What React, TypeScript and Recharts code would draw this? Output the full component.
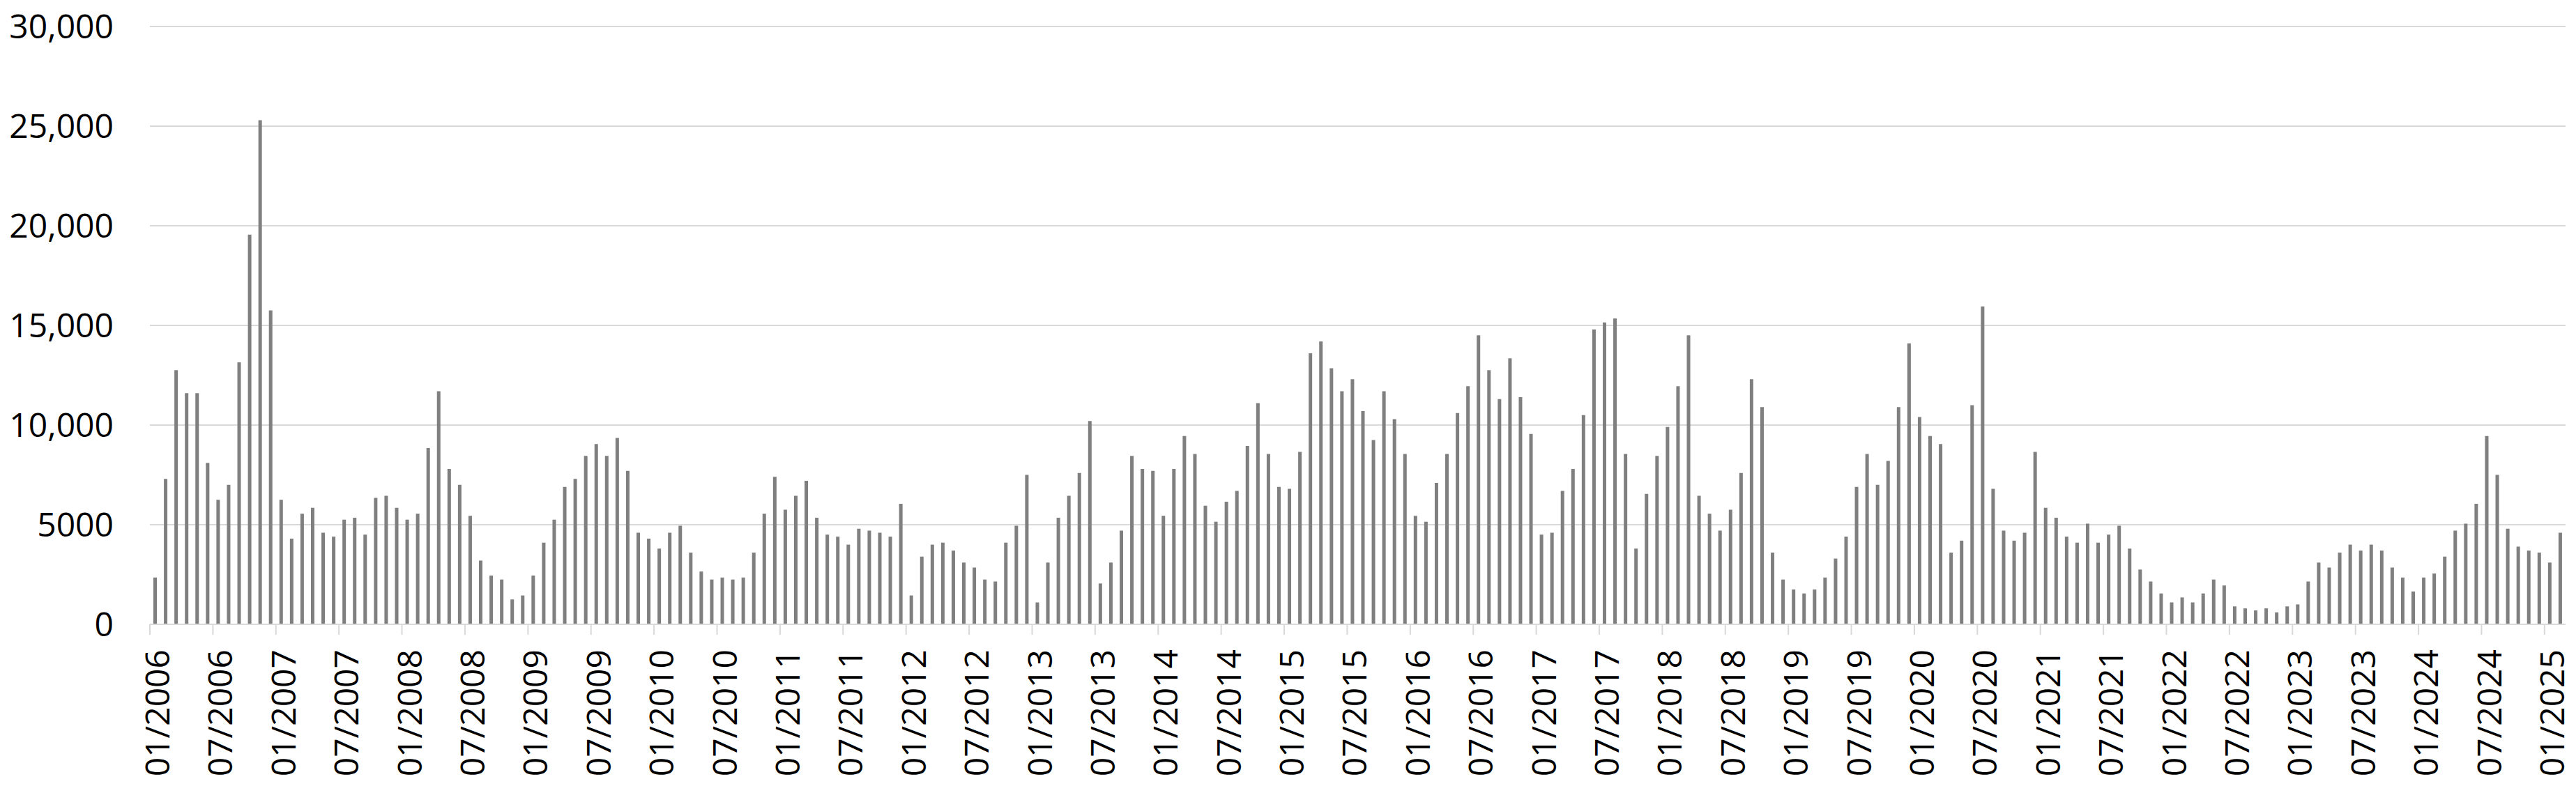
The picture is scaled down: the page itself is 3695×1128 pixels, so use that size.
import { BarChart, Bar, XAxis, YAxis, CartesianGrid } from "recharts";

const W = 3695;
const H = 1128;
const MARGIN = { top: 38, right: 15, bottom: 0, left: 0 };
const Y_AXIS_W = 215;

// monthly values, 01/2006 .. 02/2025
const values2006 = [2350, 7300, 12750, 11600, 11600, 8100, 6250, 7000, 13150, 19550, 25300, 15750];
const values2007 = [6250, 4300, 5550, 5850, 4600, 4400, 5250, 5350, 4500, 6350, 6450, 5850];
const values2008 = [5250, 5550, 8850, 11700, 7800, 7000, 5450, 3200, 2450, 2250, 1250, 1450];
const values2009 = [2450, 4100, 5250, 6900, 7300, 8450, 9050, 8450, 9350, 7700, 4600, 4300];
const values2010 = [3800, 4600, 4950, 3600, 2650, 2250, 2350, 2250, 2350, 3600, 5550, 7400];
const values2011 = [5750, 6450, 7200, 5350, 4500, 4400, 4000, 4800, 4700, 4600, 4400, 6050];
const values2012 = [1450, 3400, 4000, 4100, 3700, 3100, 2850, 2250, 2150, 4100, 4950, 7500];
const values2013 = [1100, 3100, 5350, 6450, 7600, 10200, 2050, 3100, 4700, 8450, 7800, 7700];
const values2014 = [5450, 7800, 9450, 8550, 5950, 5150, 6150, 6700, 8950, 11100, 8550, 6900];
const values2015 = [6800, 8650, 13600, 14200, 12850, 11700, 12300, 10700, 9250, 11700, 10300, 8550];
const values2016 = [5450, 5150, 7100, 8550, 10600, 11950, 14500, 12750, 11300, 13350, 11400, 9550];
const values2017 = [4500, 4600, 6700, 7800, 10500, 14800, 15150, 15350, 8550, 3800, 6550, 8450];
const values2018 = [9900, 11950, 14500, 6450, 5550, 4700, 5750, 7600, 12300, 10900, 3600, 2250];
const values2019 = [1750, 1550, 1750, 2350, 3300, 4400, 6900, 8550, 7000, 8200, 10900, 14100];
const values2020 = [10400, 9450, 9050, 3600, 4200, 11000, 15950, 6800, 4700, 4200, 4600, 8650];
const values2021 = [5850, 5350, 4400, 4100, 5050, 4100, 4500, 4950, 3800, 2750, 2150, 1550];
const values2022 = [1100, 1350, 1100, 1550, 2250, 1950, 900, 800, 700, 800, 600, 900];
const values2023 = [1000, 2150, 3100, 2850, 3600, 4000, 3700, 4000, 3700, 2850, 2350, 1650];
const values2024 = [2350, 2550, 3400, 4700, 5050, 6050, 9450, 7500, 4800, 3900, 3700, 3600];
const values2025 = [3100, 4600];

const values = [
  ...values2006, ...values2007, ...values2008, ...values2009, ...values2010,
  ...values2011, ...values2012, ...values2013, ...values2014, ...values2015,
  ...values2016, ...values2017, ...values2018, ...values2019, ...values2020,
  ...values2021, ...values2022, ...values2023, ...values2024, ...values2025,
];

const START_YEAR = 2006;
const months = values.map((_, i) => {
  const m = (i % 12) + 1;
  const y = START_YEAR + Math.floor(i / 12);
  return `${m < 10 ? "0" + m : m}/${y}`;
});

const yTicks = [0, 5000, 10000, 15000, 20000, 25000, 30000];

const data = months.map((label, i) => ({ label, value: values[i] }));

const PLOT_W = W - MARGIN.left - MARGIN.right - Y_AXIS_W;
const BAND = PLOT_W / months.length;

const FONT = "'Open Sans', sans-serif";

const fmtY = (v: number) => (v >= 10000 ? v.toLocaleString("en-US") : String(v));

function MonthTick(props: any) {
  const { x, y, payload } = props;
  const tx = x - BAND / 2;
  return (
    <g>
      <line x1={tx} y1={y} x2={tx} y2={y + 15} stroke="#d9d9d9" strokeWidth={2} />
      <text
        transform={`translate(${x},${y}) rotate(-90)`}
        x={-36}
        y={2}
        textAnchor="end"
        dominantBaseline="central"
        fontFamily={FONT}
        fontSize={48}
        fill="#000"
      >
        {payload.value}
      </text>
    </g>
  );
}

export default function App() {
  return (
    <div style={{ position: "absolute", left: 0, top: 0, background: "#fff" }}>
      <style>{`body{margin:0}`}</style>
      <BarChart width={W} height={H} data={data} margin={MARGIN} barSize={5}>
        <CartesianGrid vertical={false} stroke="#d9d9d9" strokeWidth={2} />
        <XAxis
          dataKey="label"
          interval={5}
          height={H - 896 - MARGIN.bottom}
          tickSize={0}
          tickMargin={0}
          tickLine={false}
          axisLine={{ stroke: "#d9d9d9", strokeWidth: 2 }}
          tick={(p: any) => <MonthTick {...p} />}
        />
        <YAxis
          width={Y_AXIS_W}
          domain={[0, 30000]}
          ticks={yTicks}
          tickFormatter={fmtY}
          tickSize={0}
          tickMargin={52}
          tickLine={false}
          axisLine={false}
          tick={{ fontFamily: FONT, fontSize: 48, fill: "#000" }}
        />
        <Bar dataKey="value" fill="#7f7f7f" isAnimationActive={false} />
      </BarChart>
    </div>
  );
}
